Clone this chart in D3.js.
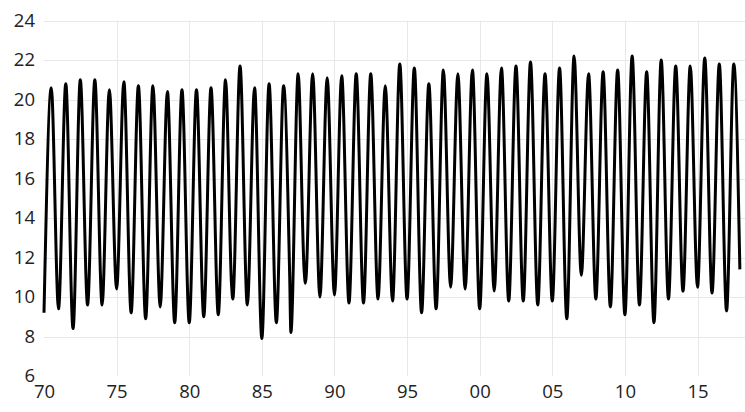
<!DOCTYPE html>
<html>
  <head>
    <title>Seasonal line</title>
    <script src="https://d3js.org/d3.v7.min.js"></script>
    <style>
      body { margin: 0; background: #ffffff; }
    </style>
  </head>
  <body>
    <svg width="745" height="412" id="mainsvg"></svg>
    <script>
        // readings: January lows and July highs, 1970-2017
        const years = d3.range(1970, 2018);
        const janLows = [
            9.2, 9.4, 8.4, 9.6, 9.6, 10.4, 9.2, 8.9, 9.5, 8.7,
            8.7, 9.0, 9.1, 9.9, 9.6, 7.9, 8.7, 8.2, 10.7, 10.0,
            10.1, 9.7, 9.7, 9.9, 9.8, 9.9, 9.2, 9.4, 10.5, 10.4,
            9.4, 10.3, 9.8, 9.8, 9.6, 9.8, 8.9, 11.1, 9.9, 9.5,
            9.1, 9.6, 8.7, 9.9, 10.3, 10.5, 10.2, 9.3
        ];
        const julHighs = [
            20.6, 20.8, 21.0, 21.0, 20.5, 20.9, 20.7, 20.7, 20.4, 20.5,
            20.5, 20.6, 21.0, 21.7, 20.6, 20.8, 20.7, 21.3, 21.3, 21.1,
            21.2, 21.3, 21.3, 20.7, 21.8, 21.6, 20.8, 21.5, 21.3, 21.5,
            21.3, 21.6, 21.7, 21.9, 21.3, 21.6, 22.2, 21.3, 21.4, 21.5,
            22.2, 21.4, 22.0, 21.7, 21.7, 22.1, 21.8, 21.8
        ];
        // a few December readings where the line shows a shoulder, plus the last point
        const decYears = [1982, 1986, 1987, 2017];
        const decValues = [10.6, 11.1, 11.3, 11.4];

        const yTicks = [8, 10, 12, 14, 16, 18, 20, 22, 24];
        const xTicks = [1970, 1975, 1980, 1985, 1990, 1995, 2000, 2005, 2010, 2015];

        const svg = d3.select('#mainsvg');
        const width = +svg.attr('width');
        const height = +svg.attr('height');

        // build the point table (year as decimal, Jan = +0, Jul = +6/12, Dec = +11/12)
        let points = [];
        years.forEach((y, i) => {
            points.push({t: y, v: janLows[i]});
            points.push({t: y + 6 / 12, v: julHighs[i]});
        });
        decYears.forEach((y, i) => points.push({t: y + 11 / 12, v: decValues[i]}));
        points.sort((a, b) => a.t - b.t);

        const xScale = d3.scaleLinear().domain([1970, 2018.27]).range([44, width]);
        const yScale = d3.scaleLinear().domain([6, 24]).range([376, 20.5]);

        const fontFam = '"Open Sans", "Liberation Sans", sans-serif';

        // horizontal grid + y labels
        const yAxis = d3.axisLeft(yScale)
            .tickValues([6].concat(yTicks))
            .tickSize(0)
            .tickPadding(9);
        const yg = svg.append('g')
            .attr('transform', `translate(${44}, 0)`)
            .call(yAxis);
        yg.select('.domain').remove();
        yg.selectAll('text')
            .attr('font-family', fontFam)
            .attr('font-size', 18.5)
            .attr('fill', '#222');

        svg.append('g').selectAll('line')
            .data(yTicks)
            .join('line')
            .attr('x1', 44)
            .attr('x2', width)
            .attr('y1', d => Math.round(yScale(d)) + 0.5)
            .attr('y2', d => Math.round(yScale(d)) + 0.5)
            .attr('stroke', '#e8e8e8')
            .attr('stroke-width', 1);

        // vertical grid + x labels
        svg.append('g').selectAll('line')
            .data(xTicks.slice(1))
            .join('line')
            .attr('x1', d => Math.round(xScale(d)) + 0.5)
            .attr('x2', d => Math.round(xScale(d)) + 0.5)
            .attr('y1', yScale(24))
            .attr('y2', yScale(6))
            .attr('stroke', '#e8e8e8')
            .attr('stroke-width', 1);

        const xAxis = d3.axisBottom(xScale)
            .tickValues(xTicks)
            .tickSize(0)
            .tickPadding(9)
            .tickFormat(d => String(d % 100).padStart(2, '0'));
        const xg = svg.append('g')
            .attr('transform', `translate(0, ${376})`)
            .call(xAxis);
        xg.select('.domain').remove();
        xg.selectAll('text')
            .attr('font-family', fontFam)
            .attr('font-size', 18.5)
            .attr('fill', '#222');

        // the series
        const line = d3.line()
            .x(d => xScale(d.t))
            .y(d => yScale(d.v))
            .curve(d3.curveMonotoneX);

        svg.append('path')
            .datum(points)
            .attr('d', line)
            .attr('fill', 'none')
            .attr('stroke', '#000')
            .attr('stroke-width', 3)
            .attr('stroke-linejoin', 'round');
    </script>
  </body>
</html>
